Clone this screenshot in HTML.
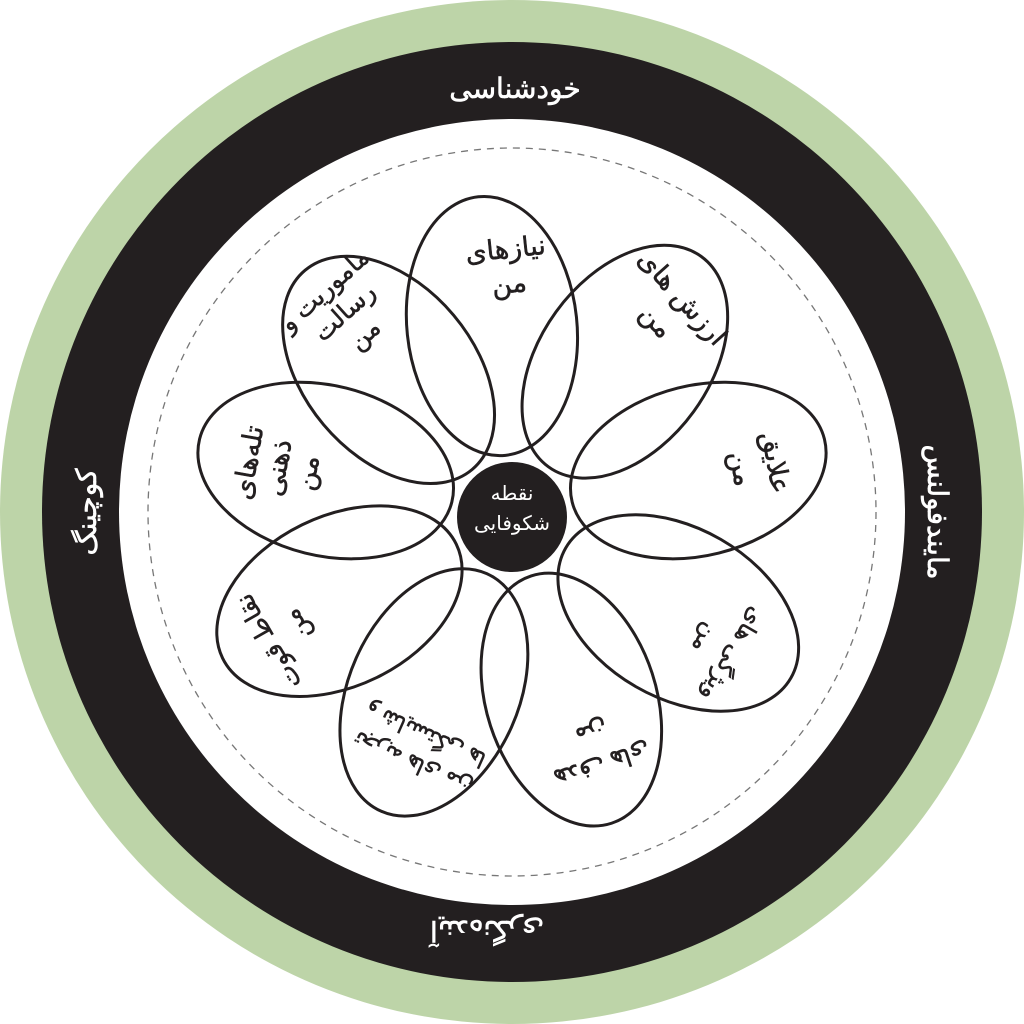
<!DOCTYPE html>
<html><head><meta charset="utf-8"><style>
html,body{margin:0;padding:0;background:#fff}
svg{display:block}
text{font-family:"Liberation Sans","Noto Sans CJK SC","DejaVu Sans",sans-serif;}
</style></head><body>
<svg width="1024" height="1024" viewBox="0 0 1024 1024" xmlns="http://www.w3.org/2000/svg">
<circle cx="512" cy="512" r="512" fill="#bdd4a8"/>
<circle cx="512" cy="512" r="470" fill="#231f20"/>
<circle cx="512" cy="512" r="393" fill="#fff"/>
<circle cx="512" cy="512" r="364" fill="none" stroke="#777" stroke-width="1.3" stroke-dasharray="7,6"/>

<g fill="#fff" font-size="28" text-anchor="middle" stroke="#fff" stroke-width="0.6">
<text x="515" y="98" direction="rtl">خودشناسی</text>
<text transform="translate(937,512) rotate(90)" x="0" y="9" direction="rtl">مایندفولنس</text>
<text transform="translate(87,512) rotate(-90)" x="0" y="9" direction="rtl">کوچینگ</text>
<text transform="translate(487,930) rotate(180)" x="0" y="9" direction="rtl">آینده‌نگری</text>
</g>

<g fill="none" stroke="#231f20" stroke-width="3">
<ellipse cx="512" cy="325" rx="85" ry="130" transform="rotate(-6 512 517)"/>
<ellipse cx="512" cy="325" rx="85" ry="130" transform="rotate(36 512 517)"/>
<ellipse cx="512" cy="325" rx="85" ry="130" transform="rotate(76 512 517)"/>
<ellipse cx="512" cy="325" rx="85" ry="130" transform="rotate(120 512 517)"/>
<ellipse cx="512" cy="325" rx="85" ry="130" transform="rotate(162 512 517)"/>
<ellipse cx="512" cy="325" rx="85" ry="130" transform="rotate(204 512 517)"/>
<ellipse cx="512" cy="325" rx="85" ry="130" transform="rotate(244 512 517)"/>
<ellipse cx="512" cy="325" rx="85" ry="130" transform="rotate(284 512 517)"/>
<ellipse cx="512" cy="325" rx="85" ry="130" transform="rotate(320 512 517)"/>
</g>

<circle cx="512" cy="517" r="55" fill="#231f20"/>
<g fill="#fff" font-size="20" text-anchor="middle" direction="rtl">
<text x="512" y="500">نقطه</text>
<text x="512" y="530">شکوفایی</text>
</g>

<g fill="#231f20" font-size="27" text-anchor="middle" direction="rtl" stroke="#231f20" stroke-width="0.5">
<g transform="translate(507,263) rotate(-6)"><text y="-5">نیازهای</text><text y="30">من</text></g>
<g transform="translate(672,307) rotate(48)"><text y="-5">ارزش های</text><text y="30">من</text></g>
<g transform="translate(762,465) rotate(80)"><text y="-5">علایق</text><text y="30">من</text></g>
<g transform="translate(722,648) rotate(120)" font-size="23"><text y="-5">ویژگی های</text><text y="27">من</text></g>
<g transform="translate(598,752) rotate(162)" font-size="25"><text y="-5">هدف های</text><text y="28">من</text></g>
<g transform="translate(418,752) rotate(204)" font-size="22"><text y="-5">تجربه های من</text><text y="26">و شایستگی ها</text></g>
<g transform="translate(280,635) rotate(240)" font-size="25"><text y="-5">نقاط قوت</text><text y="28">من</text></g>
<g transform="translate(262,465) rotate(-80)"><text y="-5">تله‌های</text><text y="25">ذهنی</text><text y="55">من</text></g>
<g transform="translate(338,305) rotate(-42)" font-size="25"><text y="-12">ماموریت و</text><text y="18">رسالت</text><text y="48">من</text></g>
</g>
</svg>
</body></html>
